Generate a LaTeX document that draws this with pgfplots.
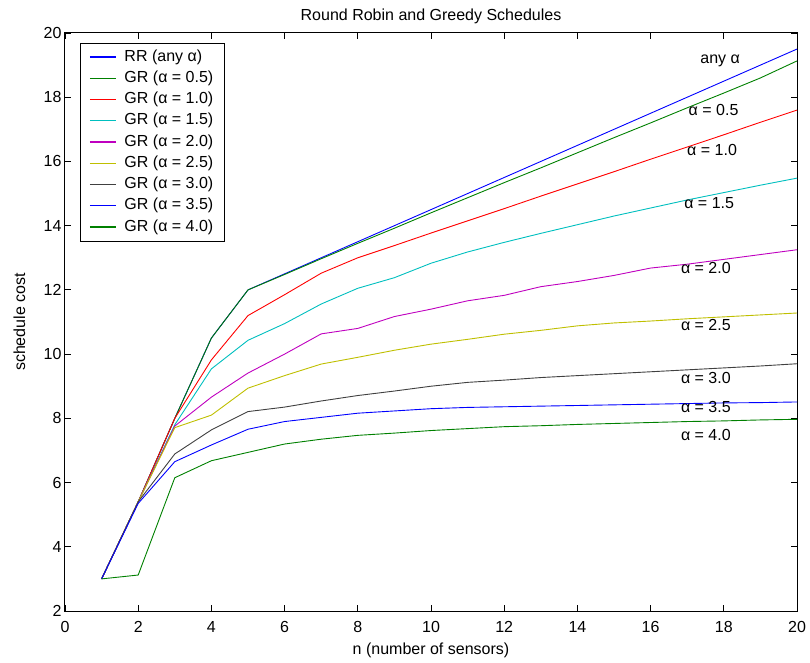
\documentclass[border=0pt]{standalone}
\usepackage{pgfplots}
\usepackage{pgfplotstable}
\pgfplotsset{compat=1.18}
\usepackage{fontspec}
\setmainfont{Liberation Sans}
\newcommand\fs{\fontsize{16bp}{19bp}\selectfont}
\definecolor{mblue}{rgb}{0,0,1}
\definecolor{mgreen}{rgb}{0,0.5,0}
\definecolor{mred}{rgb}{1,0,0}
\definecolor{mcyan}{rgb}{0,0.75,0.75}
\definecolor{mmag}{rgb}{0.75,0,0.75}
\definecolor{myel}{rgb}{0.75,0.75,0}
\definecolor{mgray}{rgb}{0.25,0.25,0.25}

\pgfplotstableread{
n  RR    g05   g10   g15   g20   g25   g30   g35   g40
1  3.00  3.00  3.00  3.00  3.00  3.00  3.00  3.00  3.00
2  5.40  5.40  5.40  5.40  5.40  5.40  5.40  5.35  3.12
3  8.00  8.00  8.00  7.80  7.76  7.71  6.89  6.65  6.15
4  10.50 10.50 9.82  9.54  8.66  8.10  7.64  7.17  6.68
5  12.00 12.00 11.20 10.43 9.41  8.94  8.21  7.66  6.94
6  12.50 12.48 11.85 10.95 10.00 9.33  8.35  7.90  7.20
7  13.00 12.97 12.52 11.56 10.63 9.69  8.54  8.03  7.35
8  13.50 13.45 13.00 12.05 10.80 9.90  8.71  8.16  7.47
9  14.00 13.92 13.38 12.38 11.17 10.12 8.85  8.23  7.54
10 14.50 14.40 13.77 12.83 11.40 10.31 9.00  8.30  7.62
11 15.00 14.87 14.15 13.18 11.66 10.46 9.12  8.34  7.68
12 15.50 15.34 14.53 13.48 11.83 10.62 9.19  8.36  7.74
13 16.00 15.80 14.92 13.76 12.10 10.74 9.27  8.38  7.77
14 16.50 16.27 15.30 14.03 12.26 10.88 9.33  8.40  7.81
15 17.00 16.74 15.68 14.30 12.45 10.97 9.39  8.42  7.84
16 17.50 17.20 16.07 14.55 12.68 11.03 9.45  8.44  7.87
17 18.00 17.67 16.45 14.80 12.80 11.10 9.51  8.46  7.90
18 18.50 18.13 16.83 15.03 12.95 11.16 9.57  8.48  7.92
19 19.00 18.60 17.22 15.26 13.10 11.22 9.63  8.49  7.95
20 19.50 19.13 17.60 15.48 13.25 11.28 9.70  8.51  7.97
}\data

\begin{document}
\begin{tikzpicture}
\useasboundingbox (-65bp,-52bp) rectangle (745bp,611bp);
\begin{axis}[
  at={(0,0)}, anchor=south west,
  scale only axis, width=732bp, height=578bp,
  xmin=0, xmax=20, ymin=2, ymax=20,
  xtick={0,2,...,20}, ytick={2,4,...,20},
  tick align=inside,
  major tick length=6bp,
  every tick/.style={black, line width=0.8bp},
  axis line style={line width=1bp},
  /pgf/number format/assume math mode=true,
  ticklabel style={font=\fs},
  xticklabel style={yshift=-7bp},
  title={Round Robin and Greedy Schedules},
  title style={font=\fs, at={(axis description cs:0.5,1.0121)}, anchor=base, yshift=0pt},
  xlabel={n (number of sensors)},
  xlabel style={font=\fs, at={(axis description cs:0.5,-0.0744)}, anchor=base},
  ylabel={schedule cost},
  ylabel style={font=\fs, at={(axis description cs:-0.0546,0.5)}, anchor=base, rotate=0},
  every axis plot/.append style={line width=0.9bp},
  legend image code/.code={\draw[line width=1.3bp,#1] (0bp,0bp) -- (26bp,0bp);},
  legend cell align=left,
  legend style={at={(axis description cs:0.0205,0.983)}, anchor=north west,
    font=\fs, inner xsep=9bp, inner ysep=4bp,
    row sep=1.25bp, column sep=6bp,
    nodes={inner sep=2bp, text height=12bp, text depth=4bp}},
  clip=false,
]
\addplot[color=mblue] table[x=n,y=RR] {\data};
\addlegendentry{RR (any α)}
\addplot[color=mgreen] table[x=n,y=g05] {\data};
\addlegendentry{GR (α = 0.5)}
\addplot[color=mred] table[x=n,y=g10] {\data};
\addlegendentry{GR (α = 1.0)}
\addplot[color=mcyan] table[x=n,y=g15] {\data};
\addlegendentry{GR (α = 1.5)}
\addplot[color=mmag] table[x=n,y=g20] {\data};
\addlegendentry{GR (α = 2.0)}
\addplot[color=myel] table[x=n,y=g25] {\data};
\addlegendentry{GR (α = 2.5)}
\addplot[color=mgray] table[x=n,y=g30] {\data};
\addlegendentry{GR (α = 3.0)}
\addplot[color=mblue] table[x=n,y=g35] {\data};
\addlegendentry{GR (α = 3.5)}
\addplot[color=mgreen] table[x=n,y=g40] {\data};
\addlegendentry{GR (α = 4.0)}
\node[font=\fs] at (axis cs:17.90,19.13) {any α};
\node[font=\fs] at (axis cs:17.72,17.60) {α = 0.5};
\node[font=\fs] at (axis cs:17.68,16.36) {α = 1.0};
\node[font=\fs] at (axis cs:17.60,14.71) {α = 1.5};
\node[font=\fs] at (axis cs:17.51,12.68) {α = 2.0};
\node[font=\fs] at (axis cs:17.51,10.91) {α = 2.5};
\node[font=\fs] at (axis cs:17.51,9.26) {α = 3.0};
\node[font=\fs] at (axis cs:17.51,8.35) {α = 3.5};
\node[font=\fs] at (axis cs:17.51,7.48) {α = 4.0};
\end{axis}
\end{tikzpicture}
\end{document}
